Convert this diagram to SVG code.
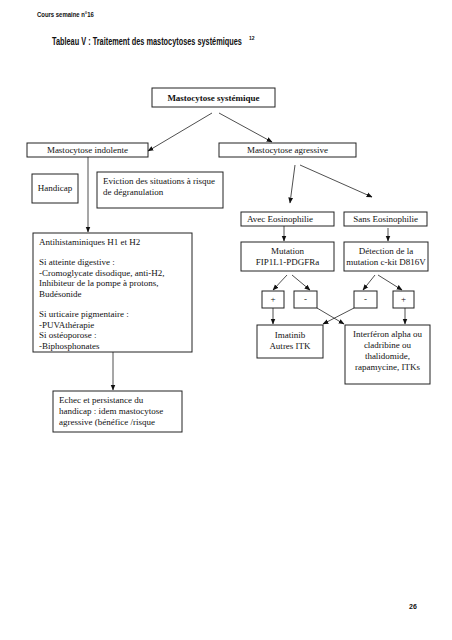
<svg xmlns="http://www.w3.org/2000/svg" width="452" height="640" viewBox="0 0 452 640">
<defs>
<style>
.b{fill:#fff;stroke:#222;stroke-width:1}
.t{font-family:"Liberation Serif","Times New Roman",serif;font-size:9px;fill:#111}
.c{text-anchor:middle}
.h{font-family:"Liberation Sans",Arial,sans-serif;font-weight:bold;fill:#111}
.l{stroke:#222;stroke-width:0.8;fill:none;marker-end:url(#a)}
</style>
<marker id="a" viewBox="0 0 10 10" refX="9" refY="5" markerWidth="6" markerHeight="6" markerUnits="userSpaceOnUse" orient="auto">
<path d="M0,1 L10,5 L0,9 z" fill="#111"/>
</marker>
</defs>
<rect width="452" height="640" fill="#fff"/>
<text class="h" transform="translate(37,17) scale(0.85,1)" x="0" y="0" font-size="7">Cours semaine n°16</text>
<text class="h" transform="translate(52,45) scale(0.7,1)" x="0" y="0" font-size="10.5">Tableau V : Traitement des mastocytoses systémiques</text>
<text class="h" x="249" y="40" font-size="5">12</text>
<text class="h" x="409" y="609" font-size="7">26</text>

<g id="connectors">
<line class="l" x1="212" y1="113" x2="148" y2="151"/>
<line class="l" x1="219" y1="113" x2="272" y2="142"/>
<line class="l" x1="88" y1="157" x2="88" y2="232"/>
<line class="l" x1="295" y1="165" x2="290" y2="203"/>
<line class="l" x1="300" y1="165" x2="372" y2="197"/>
<line class="l" x1="284" y1="226" x2="284" y2="241"/>
<line class="l" x1="388" y1="228" x2="388" y2="241"/>
<line class="l" x1="287" y1="275" x2="273" y2="290"/>
<line class="l" x1="292" y1="275" x2="310" y2="290"/>
<line class="l" x1="375" y1="275" x2="363" y2="290"/>
<line class="l" x1="378" y1="275" x2="402" y2="290"/>
<line class="l" x1="273" y1="308" x2="273" y2="324"/>
<line class="l" x1="405" y1="308" x2="405" y2="324"/>
<line class="l" x1="317" y1="308" x2="344" y2="324"/>
<line class="l" x1="354" y1="308" x2="323" y2="324"/>
<line class="l" x1="113" y1="352" x2="113" y2="390"/>
</g>

<g id="n-systemique">
<rect class="b" x="152" y="88" width="123" height="19"/>
<text class="t c" x="213.5" y="101" font-weight="bold">Mastocytose systémique</text>
</g>
<g id="n-indolente">
<rect class="b" x="27" y="143" width="121" height="14"/>
<text class="t c" x="87.5" y="153">Mastocytose indolente</text>
</g>
<g id="n-agressive">
<rect class="b" x="219" y="143" width="137" height="14"/>
<text class="t c" x="287.5" y="153">Mastocytose agressive</text>
</g>
<g id="n-handicap">
<rect class="b" x="32" y="174" width="46" height="29"/>
<text class="t c" x="55" y="191">Handicap</text>
</g>
<g id="n-eviction">
<rect class="b" x="97" y="172" width="126" height="36"/>
<text class="t" x="103" y="184">Eviction des situations à risque</text>
<text class="t" x="103" y="195">de dégranulation</text>
</g>
<g id="n-antihist">
<rect class="b" x="33" y="233" width="159" height="119"/>
<text class="t" x="39" y="245">Antihistaminiques H1 et H2</text>
<text class="t" x="39" y="265">Si atteinte digestive :</text>
<text class="t" x="39" y="275.5">-Cromoglycate disodique, anti-H2,</text>
<text class="t" x="39" y="286">Inhibiteur de la pompe à protons,</text>
<text class="t" x="39" y="296.5">Budésonide</text>
<text class="t" x="39" y="317">Si urticaire pigmentaire :</text>
<text class="t" x="39" y="327.5">-PUVAthérapie</text>
<text class="t" x="39" y="338">Si ostéoporose :</text>
<text class="t" x="39" y="348.5">-Biphosphonates</text>
</g>
<g id="n-echec">
<rect class="b" x="53" y="391" width="129" height="41"/>
<text class="t" x="59" y="403">Echec et persistance du</text>
<text class="t" x="59" y="414">handicap : idem mastocytose</text>
<text class="t" x="59" y="425">agressive (bénéfice /risque</text>
</g>
<g id="n-avec">
<rect class="b" x="241" y="212" width="93" height="14"/>
<text class="t" x="247" y="222">Avec Eosinophilie</text>
</g>
<g id="n-sans">
<rect class="b" x="344" y="212" width="83" height="14"/>
<text class="t c" x="385.5" y="222">Sans Eosinophilie</text>
</g>
<g id="n-mutation">
<rect class="b" x="241" y="242" width="93" height="29"/>
<text class="t c" x="287.5" y="254">Mutation</text>
<text class="t c" x="287.5" y="265">FIP1L1-PDGFRa</text>
</g>
<g id="n-detection">
<rect class="b" x="344" y="242" width="84" height="29"/>
<text class="t c" x="386" y="254">Détection de la</text>
<text class="t c" x="386" y="265" font-size="8.5">mutation c-kit D816V</text>
</g>
<g id="n-plus1">
<rect class="b" x="262" y="291" width="22" height="17"/>
<text class="t c" x="273" y="302">+</text>
</g>
<g id="n-minus1">
<rect class="b" x="294" y="291" width="23" height="17"/>
<text class="t c" x="305.5" y="302">-</text>
</g>
<g id="n-minus2">
<rect class="b" x="354" y="291" width="23" height="17"/>
<text class="t c" x="365.5" y="302">-</text>
</g>
<g id="n-plus2">
<rect class="b" x="393" y="291" width="21" height="17"/>
<text class="t c" x="403.5" y="302">+</text>
</g>
<g id="n-imatinib">
<rect class="b" x="257" y="325" width="66" height="33"/>
<text class="t c" x="290" y="338">Imatinib</text>
<text class="t c" x="290" y="349">Autres ITK</text>
</g>
<g id="n-interferon">
<rect class="b" x="345" y="325" width="85" height="59"/>
<text class="t c" x="387.5" y="337">Interféron alpha ou</text>
<text class="t c" x="387.5" y="348">cladribine ou</text>
<text class="t c" x="387.5" y="359">thalidomide,</text>
<text class="t c" x="387.5" y="370">rapamycine, ITKs</text>
</g>
</svg>
